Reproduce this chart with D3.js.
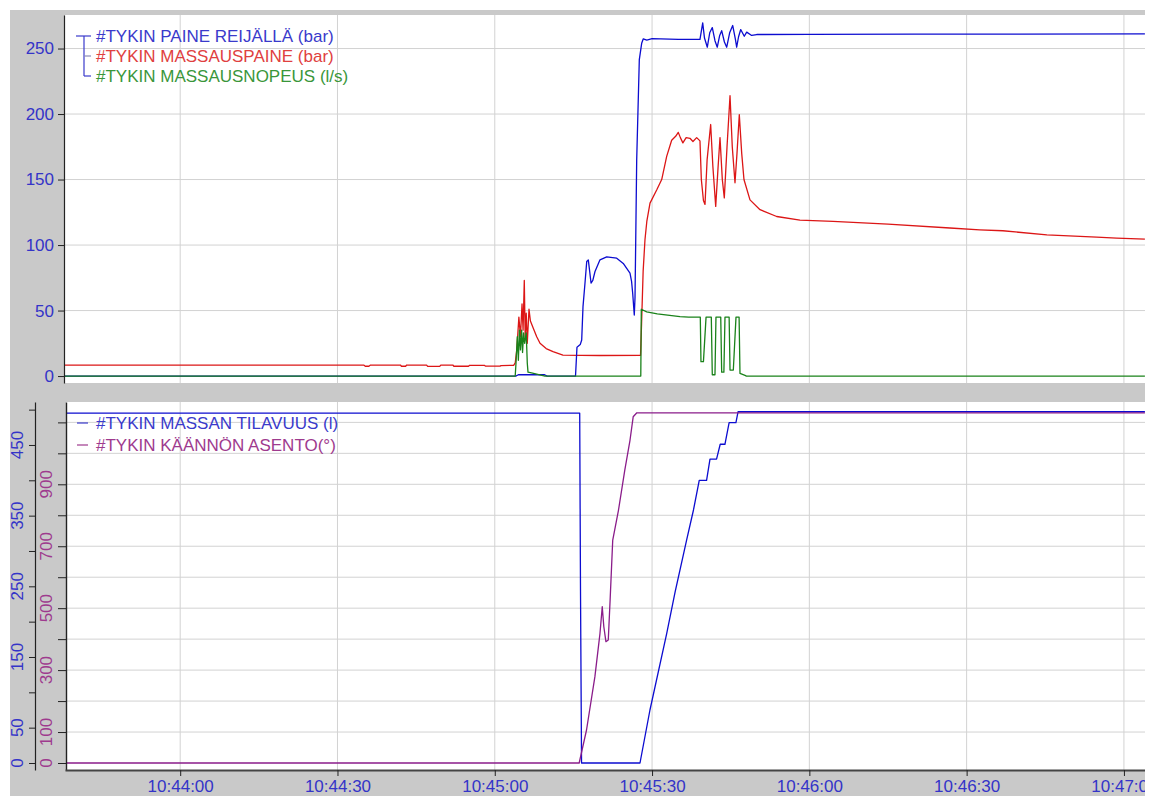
<!DOCTYPE html>
<html><head><meta charset="utf-8">
<script src="https://cdn.jsdelivr.net/npm/d3@7"></script>
<style>
body{margin:0;background:#fff;}
svg{display:block;font-family:"Liberation Sans",Arial,sans-serif;}
</style>
</head><body>
<svg id="chart" width="1155" height="796"></svg>
<script>
// ---------- DATA (time = seconds after 10:44:00) ----------
const timeTicksSec = [0, 30, 60, 90, 120, 150, 180];

const topTicks = [0, 50, 100, 150, 200, 250];
const volumeTicks = [0, 50, 100, 150, 200, 250, 300, 350, 400, 450, 500];
const volumeTickLabels = [0, 50, 150, 250, 350, 450];
const angleTicks = [0, 100, 200, 300, 400, 500, 600, 700, 800, 900, 1000, 1100];
const angleTickLabels = [0, 100, 300, 500, 700, 900];

const topLegend = ["#TYKIN PAINE REIJÄLLÄ (bar)", "#TYKIN MASSAUSPAINE (bar)", "#TYKIN MASSAUSNOPEUS (l/s)"];
const bottomLegend = ["#TYKIN MASSAN TILAVUUS (l)", "#TYKIN KÄÄNNÖN ASENTO(°)"];

// #TYKIN PAINE REIJÄLLÄ (bar)
const paineReijalla = [
  [-22,0],[64,0],[64.5,1],[69.5,1],[70,0],[75.4,0],[75.68,22],[76.3,24],[76.58,27.5],[76.83,53],
  [77.21,71],[77.54,87.4],[77.84,88.7],[78.1,80],[78.36,71],[78.7,73],[79.12,79.8],[80.07,88.7],
  [81.35,91],[83.26,90],[84.51,86],[85.2,82],[85.79,78.5],[86.1,72],[86.31,63],[86.61,46.6],
  [86.75,60],[86.88,102],[87.07,165],[87.57,241.6],[88.02,254],[88.33,257.4],[89,256.5],[90,257.5],
  [95,257],[99.14,257],[99.66,269.6],[100.0,258],[100.54,251],[101.0,262],[101.49,266],[102.0,256],
  [102.44,251],[102.9,260],[103.28,263.6],[103.8,255],[104.24,251],[104.8,262],[105.38,267.6],
  [105.9,257],[106.14,251],[106.5,259],[106.91,264.5],[107.59,259.4],[108.05,262.5],[109,260],
  [109.96,260.7],[120,260.8],[140,261],[160,261],[184,261.2]
];

// #TYKIN MASSAUSPAINE (bar)
const massausPaine = [
  [-22,8.4],[35,8.4],[35.3,7.5],[36,7.5],[36.3,8.4],[42,8.4],[42.2,7.5],[43,7.5],[43.2,8.4],
  [47,8.4],[47.2,7.4],[49.5,7.4],[49.7,8.4],[52,8.4],[52.2,7.5],[55,7.5],[55.2,8.2],[58,8.2],
  [58.2,7.6],[61,7.6],[61.2,8.0],[63.6,8.2],[63.9,10],[64.2,20],[64.6,45],[64.9,30],[65.2,55],
  [65.4,35],[65.63,73],[65.8,30],[66.0,48],[66.2,25],[66.53,51],[66.8,42],[67.29,37],[68.0,30],
  [68.63,25],[69.8,21],[71.11,18.6],[73.0,16],[80,15.7],[87.8,15.8],[88.0,40],[88.3,80],
  [88.65,104],[89.0,118],[89.61,132],[90.88,142],[91.84,150],[92.79,167.7],[93.74,180],[94.5,183],
  [95.0,186],[95.4,182],[95.88,178],[96.5,182],[97.23,181.5],[97.8,179],[98.51,182],[99.14,179.5],
  [99.4,150],[99.8,134],[100.1,131],[100.5,165],[101.18,192],[101.6,160],[102.14,129.5],[102.6,160],
  [102.96,182],[103.4,150],[103.78,136],[104.3,175],[104.87,214],[105.3,175],[105.82,147.5],
  [106.2,170],[106.64,199.5],[107.1,170],[107.53,150],[108.68,134.5],[110.59,127],[113.77,121.8],
  [118.21,119],[124.51,118],[135,116],[146.82,113],[152.5,111.6],[156.9,110.9],[165.3,107.8],
  [174.8,106],[178.6,105.3],[184,104.5]
];

// #TYKIN MASSAUSNOPEUS (l/s)
const massausNopeus = [
  [-22,0],[63.9,0],[64.05,10],[64.3,30],[64.5,12],[64.7,35],[64.9,20],[65.13,35],[65.3,18],
  [65.5,33],[65.7,25],[66.0,33],[66.2,10],[66.34,3],[67,2.5],[68,1.5],[69.58,0],[87.85,0],
  [87.95,51],[88.98,49],[91,47.5],[95.33,45.4],[97,45],[99.2,45],[99.33,11],[99.8,11],[100.3,45],
  [101.3,45],[101.49,1],[102.0,1],[102.19,45],[103.1,45],[103.28,3],[103.7,3],[103.91,45],
  [104.7,45],[104.87,4.6],[105.5,4.6],[106.01,45],[106.6,45],[106.77,2],[107.73,0.5],[108,0],[184,0]
];

// #TYKIN MASSAN TILAVUUS (l)
const massanTilavuus = [
  [-22,495],[76.2,495],[76.35,247],[76.55,0],[87.7,0],[89.6,75],[92.8,183.5],[94.4,242],
  [96.6,315.6],[97.9,358],[99.0,400],[100.4,400],[101.05,430],[102.3,430],[103.0,451],[103.9,451],
  [104.7,481.5],[106.0,481.5],[106.4,497],[184,497]
];

// #TYKIN KÄÄNNÖN ASENTO(°)
const kaannonAsento = [
  [-22,0],[76.1,0],[77.5,106.6],[79.1,278.7],[80.07,418.8],[80.5,504.8],[80.8,440],[81.2,391.7],
  [81.65,397],[82.0,526],[82.5,720],[83.6,817],[84.8,946],[85.8,1043],[86.4,1118],[87.1,1131],[184,1131]
];

// ---------- CHART ----------
const W = 1155, H = 796;
const base = new Date(2024, 0, 1, 10, 44, 0);
const toDate = s => new Date(base.getTime() + s * 1000);

const svg = d3.select("#chart");
const defs = svg.append("defs");
defs.append("clipPath").attr("id", "clipAll").append("rect").attr("x", 10).attr("y", 10).attr("width", 1135).attr("height", 786);
defs.append("clipPath").attr("id", "clipTop").append("rect").attr("x", 65).attr("y", 15).attr("width", 1080).attr("height", 368);
defs.append("clipPath").attr("id", "clipBot").append("rect").attr("x", 67).attr("y", 402).attr("width", 1078).attr("height", 368);

const root = svg.append("g").attr("clip-path", "url(#clipAll)");
root.append("rect").attr("x", 10).attr("y", 10).attr("width", 1135).attr("height", 786).attr("fill", "#c9c9c9");

const x = d3.scaleTime().domain([toDate(-21.97), toDate(184.02)]).range([65, 1145]);
const yTop = d3.scaleLinear().domain([-5.3, 275.6]).range([383, 15]);
const yVol = d3.scaleLinear().domain([-9.9, 510.8]).range([770, 402]);
const yAng = d3.scaleLinear().domain([-22.6, 1165.8]).range([770, 402]);

const C = {
  blue: "#0c0cd0", red: "#dc1616", green: "#1a821a", purple: "#8a1c8a",
  tBlue: "#3a3acb", tRed: "#e04040", tGreen: "#3a963a", tPurple: "#9e3a8e",
  axisText: "#3434c8", grid: "#d2d2d2", axis: "#222"
};
const tickDates = timeTicksSec.map(toDate);

// ---- top panel ----
root.append("rect").attr("x", 65).attr("y", 15).attr("width", 1080).attr("height", 368).attr("fill", "#fff");
const gTop = root.append("g");
gTop.selectAll("line.hg").data(topTicks.filter(d => d > 0)).join("line")
  .attr("x1", 65).attr("x2", 1145).attr("y1", d => yTop(d)).attr("y2", d => yTop(d))
  .attr("stroke", C.grid).attr("stroke-width", 1);
gTop.selectAll("line.vg").data(tickDates).join("line")
  .attr("x1", d => x(d)).attr("x2", d => x(d)).attr("y1", 15).attr("y2", 383)
  .attr("stroke", C.grid).attr("stroke-width", 1);

const lineTop = d3.line().x(d => x(toDate(d[0]))).y(d => yTop(d[1]));
const gTopLines = root.append("g").attr("clip-path", "url(#clipTop)").attr("fill", "none").attr("stroke-width", 1.3).attr("stroke-linejoin", "round");
gTopLines.append("path").datum(massausPaine).attr("d", lineTop).attr("stroke", C.red);
gTopLines.append("path").datum(paineReijalla).attr("d", lineTop).attr("stroke", C.blue);
gTopLines.append("path").datum(massausNopeus).attr("d", lineTop).attr("stroke", C.green);

const axTop = root.append("g").attr("transform", "translate(64,0)")
  .call(d3.axisLeft(yTop).tickValues(topTicks).tickSize(6).tickSizeOuter(0).tickPadding(4));
axTop.select(".domain").attr("stroke", C.axis).attr("stroke-width", 1.2);
axTop.selectAll(".tick line").attr("stroke", C.axis);
axTop.selectAll(".tick text").attr("fill", C.axisText).attr("font-size", 17).attr("font-family", "Liberation Sans, Arial, sans-serif");

// top legend
const legTop = root.append("g");
const legColors = [C.tBlue, C.tRed, C.tGreen];
const legRowY = i => 36 + i * 20;
legTop.selectAll("text").data(topLegend).join("text")
  .attr("x", 96).attr("y", (d, i) => legRowY(i)).attr("dy", "0.36em")
  .attr("fill", (d, i) => legColors[i]).attr("font-size", 17).text(d => d);
const br = legTop.append("g").attr("stroke", "#3a3acb").attr("stroke-width", 1.2).attr("fill", "none");
br.append("line").attr("x1", 76).attr("x2", 91).attr("y1", legRowY(0)).attr("y2", legRowY(0));
br.append("line").attr("x1", 84).attr("x2", 84).attr("y1", legRowY(0)).attr("y2", legRowY(2));
br.append("line").attr("x1", 84).attr("x2", 91).attr("y1", legRowY(1)).attr("y2", legRowY(1)).attr("stroke", "#8a8ab8");
br.append("line").attr("x1", 84).attr("x2", 91).attr("y1", legRowY(2)).attr("y2", legRowY(2));

// ---- bottom panel ----
root.append("rect").attr("x", 66).attr("y", 402).attr("width", 1079).attr("height", 368).attr("fill", "#fff");
const gBot = root.append("g");
gBot.selectAll("line.hg").data(angleTicks.filter(d => d > 0)).join("line")
  .attr("x1", 66).attr("x2", 1145).attr("y1", d => yAng(d)).attr("y2", d => yAng(d))
  .attr("stroke", C.grid).attr("stroke-width", 1);
gBot.selectAll("line.vg").data(tickDates).join("line")
  .attr("x1", d => x(d)).attr("x2", d => x(d)).attr("y1", 402).attr("y2", 770)
  .attr("stroke", C.grid).attr("stroke-width", 1);

const gBotLines = root.append("g").attr("clip-path", "url(#clipBot)").attr("fill", "none").attr("stroke-width", 1.3).attr("stroke-linejoin", "round");
gBotLines.append("path").datum(massanTilavuus)
  .attr("d", d3.line().x(d => x(toDate(d[0]))).y(d => yVol(d[1]))).attr("stroke", C.blue);
gBotLines.append("path").datum(kaannonAsento)
  .attr("d", d3.line().x(d => x(toDate(d[0]))).y(d => yAng(d[1]))).attr("stroke", C.purple);

// bottom legend
const legBot = root.append("g");
const legBotColors = [C.tBlue, C.tPurple];
const legBotY = i => 423 + i * 22;
legBot.selectAll("line").data(bottomLegend).join("line")
  .attr("x1", 77).attr("x2", 88).attr("y1", (d, i) => legBotY(i)).attr("y2", (d, i) => legBotY(i))
  .attr("stroke", (d, i) => legBotColors[i]).attr("stroke-width", 1.2);
legBot.selectAll("text").data(bottomLegend).join("text")
  .attr("x", 96).attr("y", (d, i) => legBotY(i)).attr("dy", "0.36em")
  .attr("fill", (d, i) => legBotColors[i]).attr("font-size", 17).text(d => d);

// angle axis (purple), on the plot's left edge
const axAng = root.append("g").attr("transform", "translate(66,0)")
  .call(d3.axisLeft(yAng).tickValues(angleTicks).tickSize(8).tickSizeOuter(0).tickFormat(""));
axAng.select(".domain").attr("stroke", C.axis).attr("stroke-width", 1.4);
axAng.selectAll(".tick line").attr("stroke", C.axis);
root.append("g").selectAll("text").data(angleTickLabels).join("text")
  .attr("transform", d => `translate(46,${yAng(d)}) rotate(-90)`)
  .attr("text-anchor", "middle").attr("dy", "0.36em")
  .attr("fill", C.tPurple).attr("font-size", 17).text(d => d);

// volume axis (blue), further left
const axVol = root.append("g").attr("transform", "translate(35,0)")
  .call(d3.axisLeft(yVol).tickValues(volumeTicks).tickSize(6).tickSizeOuter(0).tickFormat(""));
axVol.select(".domain").attr("stroke", C.axis).attr("stroke-width", 1.2);
axVol.selectAll(".tick line").attr("stroke", C.axis);
root.append("g").selectAll("text").data(volumeTickLabels).join("text")
  .attr("transform", d => `translate(17,${yVol(d)}) rotate(-90)`)
  .attr("text-anchor", "middle").attr("dy", "0.36em")
  .attr("fill", C.axisText).attr("font-size", 17).text(d => d);

// time axis
const axX = root.append("g").attr("transform", "translate(0,770)")
  .call(d3.axisBottom(x).tickValues(tickDates).tickSize(6).tickSizeOuter(0).tickPadding(4)
    .tickFormat(d3.timeFormat("%H:%M:%S")));
axX.select(".domain").attr("stroke", "#444").attr("stroke-width", 2);
axX.selectAll(".tick line").attr("stroke", C.axis);
axX.selectAll(".tick text").attr("fill", C.axisText).attr("font-size", 17).attr("font-family", "Liberation Sans, Arial, sans-serif");
</script>
</body></html>
